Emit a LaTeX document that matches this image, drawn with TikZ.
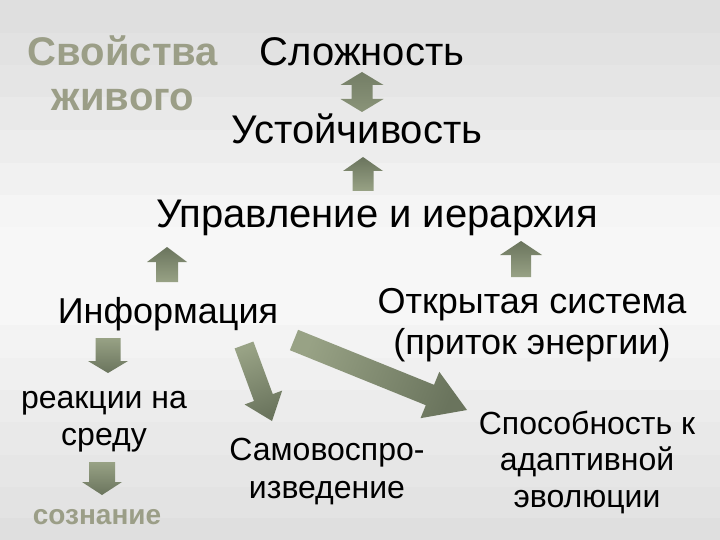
\documentclass[tikz,border=0pt]{standalone}
\usepackage{fontspec}
\setmainfont{Liberation Sans}
\usetikzlibrary{calc}
\definecolor{titlecol}{RGB}{155,158,135}
\definecolor{arrdark}{RGB}{106,116,93}
\definecolor{arrlight}{RGB}{152,162,133}
\tikzset{
  big/.style={font=\fontsize{40}{44}\selectfont, text=black, inner sep=0pt},
  mid/.style={font=\fontsize{36}{41}\selectfont, text=black, inner sep=0pt, align=center},
  small/.style={font=\fontsize{32}{37}\selectfont, text=black, inner sep=0pt, align=center},
  titletxt/.style={font=\fontsize{40}{45}\selectfont\bfseries, text=titlecol, inner sep=0pt, align=center},
  arrshade/.style={top color=arrdark, bottom color=arrlight, draw=none}
}
% block arrow from #1 to #2: half shaft #3, half head #4, head length #5 (pt), shading angle #6
\newcommand\blkarrow[6]{%
  \shade[arrshade, shading angle=#6]
    ($(#1)!#3pt!90:(#2)$) --
    ($($(#2)!#5pt!(#1)$)!#3pt!-90:(#1)$) --
    ($($(#2)!#5pt!(#1)$)!#4pt!-90:(#1)$) --
    (#2) --
    ($($(#2)!#5pt!(#1)$)!#4pt!90:(#1)$) --
    ($($(#2)!#5pt!(#1)$)!#3pt!90:(#1)$) --
    ($(#1)!#3pt!-90:(#2)$) -- cycle;}
\newcommand\dblarrow[5]{%
  \shade[top color=arrdark!80!arrlight, bottom color=arrdark!30!arrlight, draw=none]
    (#1) --
    ($($(#1)!#5pt!(#2)$)!#4pt!90:(#2)$) --
    ($($(#1)!#5pt!(#2)$)!#3pt!90:(#2)$) --
    ($($(#2)!#5pt!(#1)$)!#3pt!-90:(#1)$) --
    ($($(#2)!#5pt!(#1)$)!#4pt!-90:(#1)$) --
    (#2) --
    ($($(#2)!#5pt!(#1)$)!#4pt!90:(#1)$) --
    ($($(#2)!#5pt!(#1)$)!#3pt!90:(#1)$) --
    ($($(#1)!#5pt!(#2)$)!#3pt!-90:(#2)$) --
    ($($(#1)!#5pt!(#2)$)!#4pt!-90:(#2)$) -- cycle;}
\begin{document}
\begin{tikzpicture}[x=1pt,y=-1pt]
\useasboundingbox (0,0) rectangle (720,540);
% striped background
\foreach \ya/\yb/\g in {0/33/223,33/65/226,65/97/229,97/130/233,130/163/237,163/195/241,195/227/245,227/325/247,325/358/243,358/390/240,390/422/236,422/455/233,455/487/230,487/518/227,518/540/223}{
  \definecolor{bg}{RGB}{\g,\g,\g}
  \fill[bg] (0,\ya) rectangle (720,\yb);
}
% texts
\node[titletxt, anchor=base] (title) at (123,111) {Свойства\\живого};
\node[big, anchor=base] (slozh) at (362,66) {Сложность};
\node[big, anchor=base] (ustoi) at (357,144) {Устойчивость};
\node[big, anchor=base] (uprav) at (377,228) {Управление и иерархия};
\node[mid, anchor=base] (open) at (532,354) {Открытая система\\(приток энергии)};
\node[mid, anchor=base] (info) at (168,323) {Информация};
\node[small, anchor=base] (react) at (104,445) {реакции на\\среду};
\node[anchor=base, inner sep=0pt, font=\fontsize{28}{38}\selectfont\bfseries, text=titlecol] (soz) at (97,524) {сознание};
\node[small, anchor=base, font=\fontsize{32}{38}\selectfont] (samo) at (327,498) {Самовоспро-\\изведение};
\node[small, anchor=base, font=\fontsize{32}{36.5}\selectfont] (sposob) at (587,507) {Способность к\\адаптивной\\эволюции};
% arrow end points
\coordinate (d0a) at (362,72);  \coordinate (d0b) at (362,112);
\coordinate (u1a) at (363,191); \coordinate (u1b) at (363,157);
\coordinate (u2a) at (167,282); \coordinate (u2b) at (167,247);
\coordinate (u3a) at (521,277); \coordinate (u3b) at (521,241);
\coordinate (v1a) at (108,338); \coordinate (v1b) at (108,373);
\coordinate (v2a) at (102,462); \coordinate (v2b) at (102,495);
\coordinate (g1a) at (244,345); \coordinate (g1b) at (272,421);
\coordinate (g2a) at (294,340); \coordinate (g2b) at (467,410);
% arrows
\dblarrow{d0a}{d0b}{10.5}{21.5}{13}
\blkarrow{u1a}{u1b}{10.5}{20}{14}{0}
\blkarrow{u2a}{u2b}{11}{20}{15}{0}
\blkarrow{u3a}{u3b}{10}{21}{14}{0}
\blkarrow{v1a}{v1b}{12.5}{20}{12}{180}
\blkarrow{v2a}{v2b}{13}{20}{13}{180}
\blkarrow{g1a}{g1b}{10}{20}{25}{-160}
\blkarrow{g2a}{g2b}{11}{25}{40}{-112}
\end{tikzpicture}
\end{document}
